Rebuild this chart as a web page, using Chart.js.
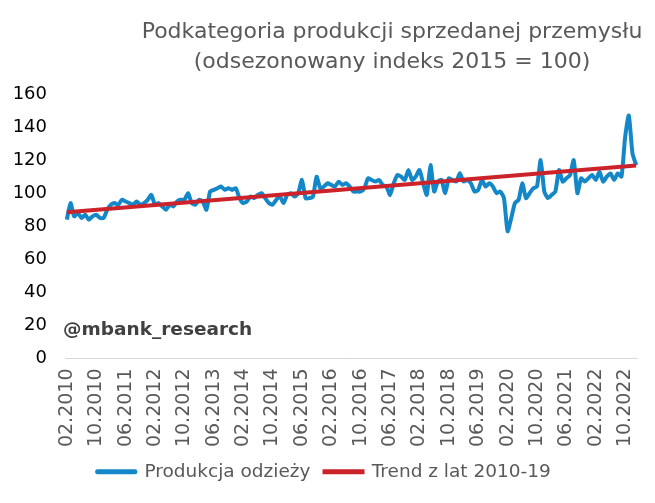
<!DOCTYPE html>
<html>
<head>
<meta charset="utf-8">
<script src="https://cdn.jsdelivr.net/npm/chart.js@4/dist/chart.umd.min.js"></script>
<style>
  html, body { margin: 0; padding: 0; background: #fff; }
  #wrap { width: 655px; height: 503px; }
</style>
</head>
<body>
<div id="wrap"><canvas id="chart"></canvas></div>
<script>
const titleLines = ['Podkategoria produkcji sprzedanej przemysłu', '(odsezonowany indeks 2015 = 100)'];
const watermark = '@mbank_research';
const seriesNames = ['Produkcja odzieży', 'Trend z lat 2010-19'];
const colors = ['#1487c8', '#cc2229'];

// monthly categories from 02.2010
const firstYear = 2010;
const firstMonth = 2;
const monthCount = 156;
const labelEvery = 8;

const clothing = [
  84, 94, 86, 88, 85, 87, 84, 86, 87, 85, 85,
  90, 93, 94, 93, 96, 95, 94, 93, 95, 93,
  94, 96, 99, 93, 94, 92, 90, 93, 92, 95,
  96, 96, 100, 94, 93, 96, 95, 90, 101, 102,
  103, 104, 102, 103, 102, 103, 97, 94, 95,
  98, 97, 99, 100, 97, 94, 93, 96, 98, 94, 99,
  100, 98, 100, 108, 97, 97, 98, 110,
  103, 104, 106, 105, 104, 107, 105, 106, 104, 101, 101, 101,
  103, 109, 108, 107, 108, 105, 104, 99, 106, 111,
  110, 108, 114, 108, 110, 114, 106, 99, 117, 101,
  107, 108, 100, 109, 108, 107, 112, 107, 108, 106, 101, 102, 108,
  104, 106, 104, 100, 101, 97, 77,
  85, 94, 96, 106, 97, 100, 103, 104, 120, 101,
  97, 99, 101, 114, 107, 109, 111, 120, 100, 109,
  107, 109, 111, 108, 113, 107, 110, 112, 108, 112,
  110, 134, 147, 124, 117
];
// trend: start and end of the straight line
const trendEnds = [88.5, 116.7];
const yMin = 0, yMax = 160, yStep = 20;

const months = [];
for (let i = 0; i < monthCount; i++) {
  const m = (firstMonth - 1 + i) % 12 + 1;
  const y = firstYear + Math.floor((firstMonth - 1 + i) / 12);
  months.push(String(m).padStart(2, '0') + '.' + y);
}

const extraText = {
  id: 'extraText',
  afterDraw(chart) {
    const ctx = chart.ctx;
    ctx.save();
    ctx.fillStyle = '#595959';
    ctx.font = '22px "DejaVu Sans"';
    ctx.textAlign = 'center';
    ctx.textBaseline = 'middle';
    ctx.fillText(titleLines[0], 392, 32);
    ctx.fillText(titleLines[1], 392, 62);
    ctx.fillStyle = '#404040';
    ctx.font = 'bold 18.5px "DejaVu Sans"';
    ctx.textAlign = 'left';
    ctx.fillText(watermark, 63, 330);
    ctx.restore();
  }
};

new Chart(document.getElementById('chart'), {
  type: 'line',
  data: {
    labels: months,
    datasets: [{
      label: seriesNames[0],
      data: clothing,
      borderColor: colors[0],
      backgroundColor: colors[0],
      borderWidth: 4,
      pointRadius: 0,
      tension: 0.2,
      borderJoinStyle: 'round',
      order: 1
    }, {
      label: seriesNames[1],
      data: [{ x: months[0], y: trendEnds[0] }, { x: months[monthCount - 1], y: trendEnds[1] }],
      borderColor: colors[1],
      backgroundColor: colors[1],
      borderWidth: 4,
      pointRadius: 0,
      order: 0
    }]
  },
  options: {
    responsive: true,
    maintainAspectRatio: false,
    animation: false,
    layout: { padding: { top: 94, right: 17, left: 10, bottom: 12 } },
    plugins: {
      title: { display: false },
      tooltip: { enabled: false },
      legend: {
        position: 'bottom',
        labels: {
          boxWidth: 38,
          boxHeight: 1,
          padding: 14,
          color: '#595959',
          font: { family: 'DejaVu Sans', size: 18.5 },
          sort: (a, b) => a.datasetIndex - b.datasetIndex
        }
      }
    },
    scales: {
      x: {
        offset: true,
        grid: { display: false },
        border: { display: false },
        ticks: {
          autoSkip: false,
          maxRotation: 90,
          minRotation: 90,
          padding: 2,
          color: '#595959',
          font: { family: 'DejaVu Sans', size: 19 },
          callback: (v, i) => (i % labelEvery === 0 ? months[i] : null)
        },
        afterFit: (s) => { s.height = 90; }
      },
      y: {
        min: yMin,
        max: yMax,
        border: { display: false },
        grid: {
          drawTicks: false,
          color: (c) => (c.tick && c.tick.value === 0 ? '#d9d9d9' : 'rgba(0,0,0,0)')
        },
        ticks: {
          stepSize: yStep,
          padding: 18,
          color: '#000',
          font: { family: 'DejaVu Sans', size: 18 }
        },
        afterFit: (s) => { s.width = 55; }
      }
    }
  },
  plugins: [extraText]
});
</script>
</body>
</html>
